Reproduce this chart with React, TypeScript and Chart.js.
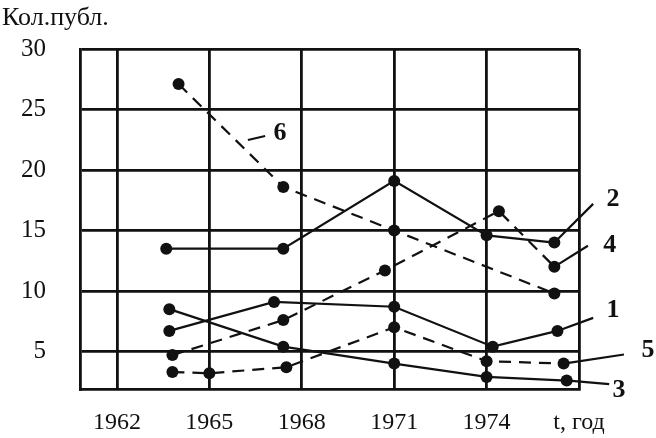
import React, { useEffect, useRef } from 'react';
import { Chart, registerables } from 'chart.js';

Chart.register(...registerables);

// ---- axis data ----
const yAxisTitle = 'Кол.публ.';
const xTickValues = [1962, 1965, 1968, 1971, 1974, 1977];
const xTickLabels = ['1962', '1965', '1968', '1971', '1974', 't, год'];
const yTickValues = [5, 10, 15, 20, 25, 30];

// ---- series data ----
const series1Years = [1963.7, 1967.1, 1971.0, 1974.2, 1976.3];
const series1Values = [6.7, 9.1, 8.7, 5.4, 6.7];

const series2Years = [1963.6, 1967.4, 1971.0, 1974.0, 1976.2];
const series2Values = [13.5, 13.5, 19.1, 14.6, 14.0];

const series3Years = [1963.7, 1967.4, 1971.0, 1974.0, 1976.6];
const series3Values = [8.5, 5.4, 4.0, 2.9, 2.6];

const series4Years = [1963.8, 1967.4, 1970.7, 1974.4, 1976.2];
const series4Values = [4.7, 7.6, 11.7, 16.6, 12.0];

const series5Years = [1963.8, 1965.0, 1967.5, 1971.0, 1974.0, 1976.5];
const series5Values = [3.3, 3.2, 3.7, 7.0, 4.2, 4.0];

const series6Years = [1964.0, 1967.4, 1971.0, 1976.2];
const series6Values = [27.1, 18.6, 15.0, 9.8];

const seriesNames = ['1', '2', '3', '4', '5', '6'];
const seriesDashed = [false, false, false, true, true, true];

// annotation labels with leader lines (data coordinates)
const seriesLabels = [
  { text: '2', series: 1, tipYear: 1977.46, tipValue: 17.2, textYear: 1978.1, textValue: 17.6 },
  { text: '4', series: 3, tipYear: 1977.29, tipValue: 13.74, textYear: 1978.0, textValue: 13.74 },
  { text: '1', series: 0, tipYear: 1977.46, tipValue: 7.78, textYear: 1978.1, textValue: 8.43 },
  { text: '5', series: 4, tipYear: 1978.46, tipValue: 4.75, textYear: 1979.24, textValue: 5.08 },
  { text: '3', series: 2, tipYear: 1977.98, tipValue: 2.3, textYear: 1978.3, textValue: 1.81 },
  { text: '6', series: 5, fromYear: 1966.25, fromValue: 22.48, tipYear: 1966.81, tipValue: 22.81, textYear: 1967.29, textValue: 23.06 },
];

const FONT = '"Liberation Serif", "Times New Roman", serif';
const INK = '#111';

const labelPlugin = {
  id: 'seriesLabels',
  afterDatasetsDraw(chart: any) {
    const { ctx } = chart;
    const xs = chart.scales.x;
    const ys = chart.scales.y;
    ctx.save();
    ctx.strokeStyle = INK;
    ctx.fillStyle = INK;
    ctx.lineWidth = 2.2;
    ctx.setLineDash([]);
    ctx.font = `bold 26px ${FONT}`;
    ctx.textAlign = 'center';
    ctx.textBaseline = 'middle';
    seriesLabels.forEach((l: any) => {
      const tx = xs.getPixelForValue(l.tipYear);
      const ty = ys.getPixelForValue(l.tipValue);
      let sx: number;
      let sy: number;
      if (l.fromYear != null) {
        sx = xs.getPixelForValue(l.fromYear);
        sy = ys.getPixelForValue(l.fromValue);
      } else {
        const meta = chart.getDatasetMeta(l.series);
        const pt = meta.data[meta.data.length - 1];
        const dx = tx - pt.x;
        const dy = ty - pt.y;
        const d = Math.hypot(dx, dy) || 1;
        sx = pt.x + (dx / d) * 5;
        sy = pt.y + (dy / d) * 5;
      }
      ctx.beginPath();
      ctx.moveTo(sx, sy);
      ctx.lineTo(tx, ty);
      ctx.stroke();
      ctx.fillText(l.text, xs.getPixelForValue(l.textYear), ys.getPixelForValue(l.textValue));
    });
    ctx.restore();
  },
};

export default function App() {
  const canvasRef = useRef<HTMLCanvasElement | null>(null);

  useEffect(() => {
    if (!canvasRef.current) return;
    const allYears = [series1Years, series2Years, series3Years, series4Years, series5Years, series6Years];
    const allValues = [series1Values, series2Values, series3Values, series4Values, series5Values, series6Values];

    const datasets = allYears.map((years, i) => ({
      label: seriesNames[i],
      data: years.map((x, j) => ({ x, y: allValues[i][j] })),
      borderColor: INK,
      backgroundColor: INK,
      borderWidth: 2.2,
      borderDash: seriesDashed[i] ? [12, 8] : [],
      pointRadius: 6,
      pointBackgroundColor: INK,
      pointBorderWidth: 0,
      tension: 0,
      fill: false,
    }));

    const chart = new Chart(canvasRef.current, {
      type: 'line',
      data: { datasets },
      plugins: [labelPlugin],
      options: {
        animation: false,
        responsive: false,
        layout: { padding: { left: 2, right: 77, top: 0, bottom: 0 } },
        plugins: {
          legend: { display: false },
          tooltip: { enabled: false },
          title: {
            display: true,
            text: yAxisTitle,
            align: 'start',
            color: INK,
            font: { family: FONT, size: 26, weight: 'normal' },
            padding: { top: 0, bottom: 15 },
          },
        },
        scales: {
          x: {
            type: 'linear',
            min: 1960.8,
            max: 1977,
            afterBuildTicks: (s: any) => {
              s.ticks = xTickValues.map((v) => ({ value: v }));
            },
            afterFit: (s: any) => {
              s.height = 48;
            },
            ticks: {
              callback: (_v: any, i: number) => xTickLabels[i],
              font: { family: FONT, size: 24 },
              color: INK,
              padding: 19,
              maxRotation: 0,
              autoSkip: false,
            },
            grid: { color: INK, lineWidth: 2.8, drawTicks: false },
            border: { color: INK, width: 2.8 },
          },
          y: {
            type: 'linear',
            min: 1.9,
            max: 30,
            afterBuildTicks: (s: any) => {
              s.ticks = yTickValues.map((v) => ({ value: v }));
            },
            afterFit: (s: any) => {
              s.width = 78;
            },
            ticks: {
              font: { family: FONT, size: 25 },
              color: INK,
              padding: 34,
            },
            grid: { color: INK, lineWidth: 2.8, drawTicks: false },
            border: { color: INK, width: 2.8 },
          },
        },
      } as any,
    });

    return () => {
      chart.destroy();
    };
  }, []);

  return (
    <div style={{ position: 'fixed', left: 0, top: 0, width: 656, height: 438, background: '#fff' }}>
      <canvas ref={canvasRef} width={656} height={438} />
    </div>
  );
}
